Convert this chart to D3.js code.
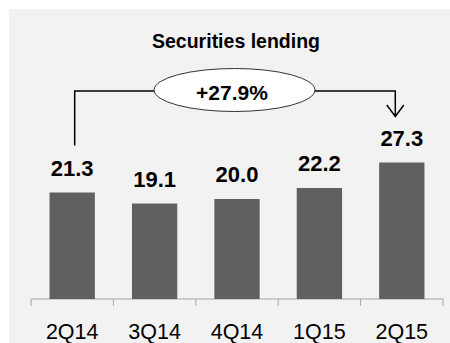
<!DOCTYPE html>
<html lang="en">
<head>
    <script src="https://d3js.org/d3.v7.min.js"></script>
    <style>
        body { margin: 0; background: #fff; }
        text { font-family: "Liberation Sans", Arial, sans-serif; fill: #000; }
        .bar { fill: #606060; }
        .axis path, .axis line { stroke: #a6a6a6; }
    </style>
</head>
<body>
    <svg width="450" height="343"></svg>
    <script>
        var categories = ["2Q14", "3Q14", "4Q14", "1Q15", "2Q15"];
        var values = [21.3, 19.1, 20.0, 22.2, 27.3];
        var valueLabels = ["21.3", "19.1", "20.0", "22.2", "27.3"];
        var growthLabel = "+27.9%";

        var svg = d3.select("svg");

        // panel background
        svg.append("rect")
            .attr("x", 9).attr("y", 9)
            .attr("width", 441).attr("height", 334)
            .attr("fill", "#f2f2f2");

        var x = d3.scaleBand()
            .domain(categories)
            .range([31, 443])
            .paddingInner(0.45)
            .paddingOuter(0.225);

        var y = d3.scaleLinear().domain([0, 30]).range([299, 149]);

        //x-axis, ticks between categories
        var axis = svg.append("g")
            .attr("class", "axis")
            .attr("transform", "translate(0,299)");
        axis.append("line")
            .attr("x1", 31).attr("x2", 443);
        var step = x.step();
        axis.selectAll(".tick")
            .data(d3.range(categories.length + 1))
            .enter().append("line")
            .attr("x1", function (i) { return 31 + i * step; })
            .attr("x2", function (i) { return 31 + i * step; })
            .attr("y1", 0).attr("y2", 7);
        axis.selectAll(".cat")
            .data(categories)
            .enter().append("text")
            .attr("x", function (d) { return x(d) + x.bandwidth() / 2; })
            .attr("y", 40)
            .attr("text-anchor", "middle")
            .style("font-size", "21.5px")
            .text(function (d) { return d; });

        //bars
        svg.selectAll(".bar")
            .data(values)
            .enter().append("rect")
            .attr("class", "bar")
            .attr("x", function (d, i) { return x(categories[i]); })
            .attr("y", function (d) { return y(d); })
            .attr("width", x.bandwidth())
            .attr("height", function (d) { return y(0) - y(d); });

        //value labels
        svg.selectAll(".lbl")
            .data(values)
            .enter().append("text")
            .attr("x", function (d, i) { return x(categories[i]) + x.bandwidth() / 2; })
            .attr("y", function (d) { return y(d) - 17; })
            .attr("text-anchor", "middle")
            .style("font-size", "22px")
            .style("font-weight", "bold")
            .text(function (d, i) { return valueLabels[i]; });

        //title
        svg.append("text")
            .attr("x", 236).attr("y", 48)
            .attr("text-anchor", "middle")
            .style("font-size", "19.5px")
            .style("font-weight", "bold")
            .text("Securities lending");

        //growth bracket
        var first = categories[0], last = categories[categories.length - 1];
        var xl = x(first) + x.bandwidth() / 2 + 2.5;
        var xr = x(last) + x.bandwidth() / 2 - 6.5;
        var yTop = 91;
        svg.append("path")
            .attr("d", "M" + xl + "," + (y(values[0]) - 47) + "V" + yTop + "H" + xr + "V" + 116)
            .attr("fill", "none")
            .attr("stroke", "#000")
            .attr("stroke-width", 1.5);
        svg.append("path")
            .attr("d", "M" + (xr - 8.5) + ",105L" + xr + ",116.5L" + (xr + 8.5) + ",105")
            .attr("fill", "none")
            .attr("stroke", "#000")
            .attr("stroke-width", 1.5);

        svg.append("ellipse")
            .attr("cx", 234.5).attr("cy", 90)
            .attr("rx", 80.5).attr("ry", 21.5)
            .attr("fill", "#fff")
            .attr("stroke", "#333")
            .attr("stroke-width", 1);
        svg.append("text")
            .attr("x", 232).attr("y", 100)
            .attr("text-anchor", "middle")
            .style("font-size", "21px")
            .style("font-weight", "bold")
            .text(growthLabel);
    </script>
</body>
</html>
